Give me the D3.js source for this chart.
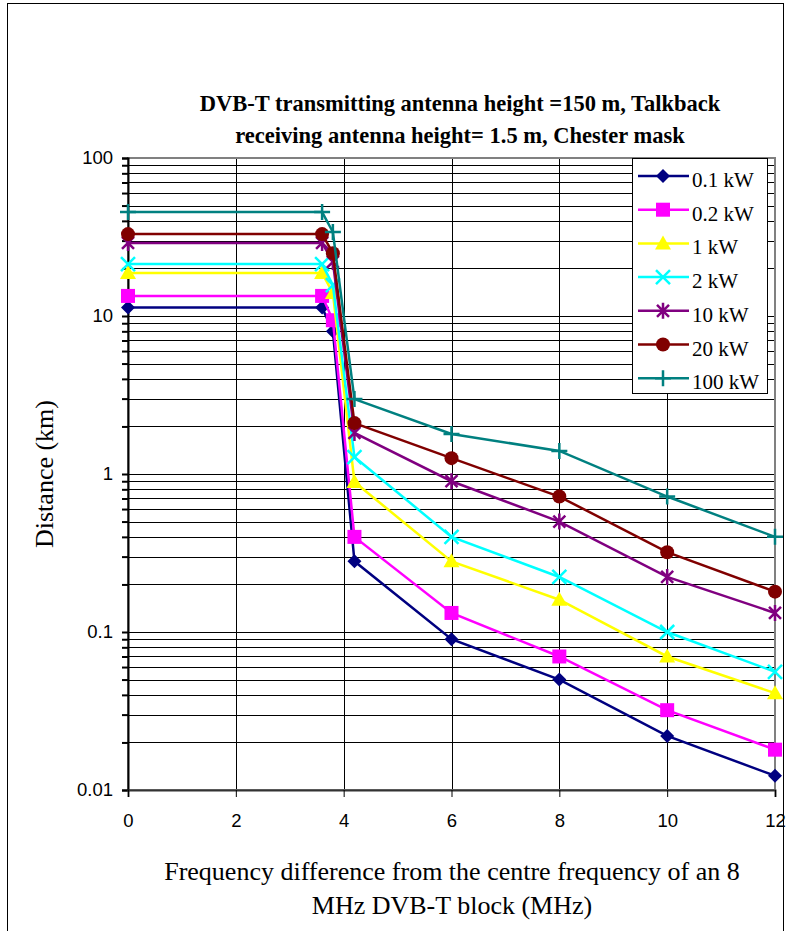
<!DOCTYPE html>
<meta charset="utf-8">
<script src="https://d3js.org/d3.v7.min.js"></script>
<style>
  body { margin: 0; background: #fff; }
</style>
<div id="chart"></div>
<script>
  // data
  var freqs = [0, 3.6, 3.8, 4.2, 6, 8, 10, 12];
  var seriesNames = ["0.1 kW", "0.2 kW", "1 kW", "2 kW", "10 kW", "20 kW", "100 kW"];
  var d01 = [11.3, 11.3, 8.0, 0.28, 0.09, 0.05, 0.022, 0.0123];
  var d02 = [13.4, 13.4, 9.4, 0.40, 0.132, 0.070, 0.032, 0.018];
  var d1 = [18.7, 18.7, 14, 0.89, 0.28, 0.16, 0.07, 0.041];
  var d2 = [21.3, 21.3, 15.7, 1.28, 0.40, 0.223, 0.10, 0.056];
  var d10 = [29, 29, 22, 1.82, 0.90, 0.50, 0.223, 0.132];
  var d20 = [33, 33, 25, 2.1, 1.26, 0.72, 0.32, 0.18];
  var d100 = [45.5, 45.5, 34, 2.98, 1.79, 1.40, 0.72, 0.40];
  var xTicks = [0, 2, 4, 6, 8, 10, 12];
  var yTicks = [100, 10, 1, 0.1, 0.01];

  var allSeries = [d01, d02, d1, d2, d10, d20, d100];
  var colors = ["#000080", "#ff00ff", "#ffff00", "#00ffff", "#800080", "#800000", "#008080"];
  var shapes = ["diamond", "square", "triangle", "x", "star", "circle", "plus"];

  var W = 787, H = 931;
  var svg = d3.select("#chart").append("svg")
    .attr("width", W).attr("height", H);

  // outer frame
  svg.append("rect")
    .attr("x", 7.5).attr("y", 3.5).attr("width", 776).attr("height", 940)
    .attr("fill", "none").attr("stroke", "#000").attr("stroke-width", 1);

  var pLeft = 128, pRight = 775, pTop = 158, pBottom = 790;
  var x = d3.scaleLinear().domain([0, 12]).range([pLeft, pRight]);
  var y = d3.scaleLog().domain([0.01, 100]).range([pBottom, pTop]);

  // gridlines: minor + major horizontal
  var hLines = [];
  [0.01, 0.1, 1, 10].forEach(function (b) {
    for (var k = 1; k <= 9; k++) hLines.push(+(b * k).toPrecision(3));
  });
  hLines.push(100);
  svg.append("g").selectAll("line").data(hLines).enter().append("line")
    .attr("x1", pLeft).attr("x2", pRight)
    .attr("y1", function (d) { return Math.round(y(d)) + 0.5; })
    .attr("y2", function (d) { return Math.round(y(d)) + 0.5; })
    .attr("stroke", "#000").attr("stroke-width", 1);

  svg.append("g").selectAll("line").data(xTicks).enter().append("line")
    .attr("x1", function (d) { return Math.round(x(d)) + 0.5; })
    .attr("x2", function (d) { return Math.round(x(d)) + 0.5; })
    .attr("y1", pTop).attr("y2", pBottom)
    .attr("stroke", "#000").attr("stroke-width", 1);

  // plot border
  svg.append("rect")
    .attr("x", pLeft).attr("y", pTop).attr("width", pRight - pLeft).attr("height", pBottom - pTop)
    .attr("fill", "none").attr("stroke", "#808080").attr("stroke-width", 2);

  // axes
  var yAxis = d3.axisLeft(y).tickValues(hLines).tickSize(6)
    .tickFormat(function (d) { return yTicks.indexOf(d) >= 0 ? d3.format("~g")(d) : ""; });
  var gy = svg.append("g").attr("transform", "translate(" + pLeft + ",0)").call(yAxis);
  gy.select(".domain").attr("stroke", "#000").attr("stroke-width", 2);
  gy.selectAll(".tick line").attr("stroke", "#000").attr("stroke-width", 2);
  gy.selectAll("text").attr("font-family", "Liberation Sans, Arial, sans-serif")
    .attr("font-size", 18.5).attr("fill", "#000").attr("x", -15);

  var xAxis = d3.axisBottom(x).tickValues(xTicks).tickSize(7).tickFormat(d3.format("d"));
  var gx = svg.append("g").attr("transform", "translate(0," + pBottom + ")").call(xAxis);
  gx.select(".domain").attr("stroke", "#333").attr("stroke-width", 2);
  gx.selectAll(".tick line").attr("stroke", "#000");
  gx.selectAll("text").attr("font-family", "Liberation Sans, Arial, sans-serif")
    .attr("font-size", 18.5).attr("fill", "#000").attr("y", 24);

  // symbols
  function drawMarker(g, shape, color, cx, cy) {
    if (shape === "diamond") {
      g.append("path").attr("d", "M" + cx + "," + (cy - 7) + "L" + (cx + 7) + "," + cy + "L" + cx + "," + (cy + 7) + "L" + (cx - 7) + "," + cy + "Z")
        .attr("fill", color);
    } else if (shape === "square") {
      g.append("rect").attr("x", cx - 7).attr("y", cy - 7).attr("width", 14).attr("height", 14)
        .attr("fill", color);
    } else if (shape === "triangle") {
      g.append("path").attr("d", "M" + cx + "," + (cy - 8) + "L" + (cx + 8) + "," + (cy + 6) + "L" + (cx - 8) + "," + (cy + 6) + "Z")
        .attr("fill", color);
    } else if (shape === "circle") {
      g.append("circle").attr("cx", cx).attr("cy", cy).attr("r", 7).attr("fill", color);
    } else if (shape === "x") {
      g.append("path").attr("d", "M" + (cx - 7) + "," + (cy - 7) + "L" + (cx + 7) + "," + (cy + 7) + "M" + (cx - 7) + "," + (cy + 7) + "L" + (cx + 7) + "," + (cy - 7))
        .attr("stroke", color).attr("stroke-width", 2.5).attr("fill", "none");
    } else if (shape === "star") {
      g.append("path").attr("d", "M" + (cx - 6) + "," + (cy - 6) + "L" + (cx + 6) + "," + (cy + 6) + "M" + (cx - 6) + "," + (cy + 6) + "L" + (cx + 6) + "," + (cy - 6) + "M" + cx + "," + (cy - 8) + "L" + cx + "," + (cy + 8))
        .attr("stroke", color).attr("stroke-width", 2.5).attr("fill", "none");
    } else if (shape === "plus") {
      g.append("path").attr("d", "M" + (cx - 8) + "," + cy + "L" + (cx + 8) + "," + cy + "M" + cx + "," + (cy - 8) + "L" + cx + "," + (cy + 8))
        .attr("stroke", color).attr("stroke-width", 2.5).attr("fill", "none");
    }
  }

  var line = d3.line()
    .x(function (d, i) { return x(freqs[i]); })
    .y(function (d) { return y(d); });

  allSeries.forEach(function (vals, s) {
    var g = svg.append("g");
    g.append("path").datum(vals).attr("d", line)
      .attr("fill", "none").attr("stroke", colors[s]).attr("stroke-width", 2.5);
    vals.forEach(function (v, i) {
      drawMarker(g, shapes[s], colors[s], x(freqs[i]), y(v));
    });
  });

  // legend
  var lg = svg.append("g");
  lg.append("rect").attr("x", 632.5).attr("y", 158.5).attr("width", 135).attr("height", 235)
    .attr("fill", "#fff").attr("stroke", "#000").attr("stroke-width", 1);
  seriesNames.forEach(function (name, i) {
    var ly = 176 + i * 33.7;
    lg.append("line").attr("x1", 638).attr("x2", 689).attr("y1", ly).attr("y2", ly)
      .attr("stroke", colors[i]).attr("stroke-width", 2.5);
    drawMarker(lg, shapes[i], colors[i], 663, ly);
    lg.append("text").attr("x", 692).attr("y", ly + 11).text(name)
      .attr("font-family", "Liberation Serif, Times New Roman, serif").attr("font-size", 21);
  });

  // title
  var title = svg.append("text").attr("text-anchor", "middle")
    .attr("font-family", "Liberation Serif, Times New Roman, serif")
    .attr("font-size", 22.5).attr("font-weight", "bold");
  title.append("tspan").attr("x", 460).attr("y", 111).text("DVB-T transmitting antenna height =150 m, Talkback");
  title.append("tspan").attr("x", 460).attr("y", 143).text("receiving antenna height= 1.5 m, Chester mask");

  // axis titles
  svg.append("text").attr("transform", "translate(53,474) rotate(-90)")
    .attr("text-anchor", "middle")
    .attr("font-family", "Liberation Serif, Times New Roman, serif").attr("font-size", 26)
    .text("Distance (km)");

  var xt = svg.append("text").attr("text-anchor", "middle")
    .attr("font-family", "Liberation Serif, Times New Roman, serif").attr("font-size", 26);
  xt.append("tspan").attr("x", 452).attr("y", 880).text("Frequency difference from the centre frequency of an 8");
  xt.append("tspan").attr("x", 452).attr("y", 914).text("MHz DVB-T block (MHz)");
</script>
